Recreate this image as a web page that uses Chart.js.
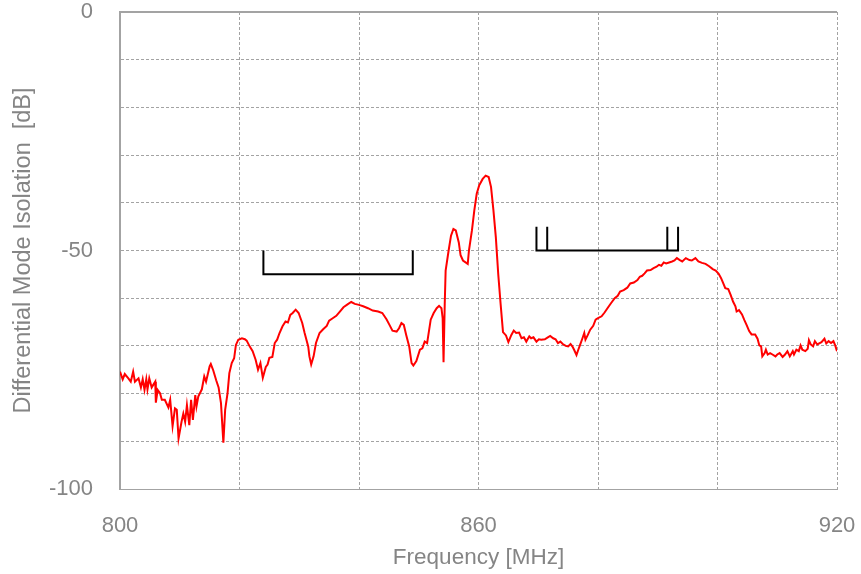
<!DOCTYPE html>
<html>
<head>
<meta charset="utf-8">
<script src="https://cdn.jsdelivr.net/npm/chart.js@4/dist/chart.umd.min.js"></script>
<style>
  html, body { margin: 0; padding: 0; background: #fff; }
  #wrap { width: 861px; height: 574px; position: relative; }
</style>
</head>
<body>
<div id="wrap"><canvas id="c" width="861" height="574"></canvas></div>
<script>
// ---- data ----
const freqMHz = [
  800.0, 800.45, 800.8, 801.4, 801.8, 802.2, 802.5, 803.1, 803.5, 803.8,
  804.1, 804.4, 804.6, 804.9, 805.3, 805.9, 806.0, 806.3, 806.7, 807.0,
  807.5, 808.1, 808.4, 808.8, 809.2, 809.5, 809.8, 810.3, 810.6, 810.9,
  811.2, 811.6, 811.9, 812.2, 812.6, 812.8, 813.1, 813.7, 814.1, 814.4,
  815.0, 815.2, 815.6, 816.1, 816.5, 816.9, 817.3, 817.6, 818.0, 818.3,
  818.7, 819.1, 819.4, 819.8,
  820.4, 820.9, 821.2, 821.7, 822.2, 822.7, 823.1, 823.5, 823.9, 824.4,
  824.7, 825.0, 825.5, 825.9, 826.3, 826.7, 827.2, 827.7, 828.1, 828.5,
  828.9, 829.4, 829.9, 830.5, 830.9, 831.5, 831.7, 832.0, 832.4, 832.8,
  833.4, 834.0, 834.6, 835.0, 835.6, 836.2, 836.8, 837.4, 838.2, 838.7,
  839.3, 840.0, 840.7, 841.5, 842.3, 843.2, 843.9, 844.6, 845.1, 845.6,
  846.3, 846.7, 847.1, 847.5, 847.9, 848.4, 848.8, 849.1, 849.6, 850.2,
  850.6, 851.0, 851.4, 852.0, 852.5, 853.0, 853.4, 853.8, 854.0, 854.15,
  854.35, 854.5,
  855.0, 855.4, 855.8, 856.2, 856.7, 857.0, 857.4, 858.2, 858.4, 858.9,
  859.3, 859.7, 860.1, 860.7, 861.2, 861.7, 862.1, 862.5, 862.9, 863.3,
  863.7, 864.1, 864.6, 865.0, 865.5, 865.9, 866.3, 866.8, 867.2, 867.6,
  868.0, 868.5, 868.8, 869.2, 869.7, 870.1, 870.5, 871.1, 871.6, 872.0,
  872.5, 872.9, 873.3, 873.7, 874.1, 874.6, 875.0, 875.4, 875.7, 876.0,
  876.4, 876.7, 877.0, 877.4, 877.7, 877.9, 878.3, 878.7, 879.2, 879.6,
  880.0, 880.6, 881.1, 881.7, 882.2, 882.8, 883.3, 883.7, 884.3, 884.9,
  885.4, 886.0, 886.6, 887.0, 887.4, 887.8, 888.2, 888.8, 889.3, 889.8,
  890.2, 890.6, 891.0, 891.4, 891.9, 892.4, 892.8, 893.2, 893.7,
  894.1, 894.7, 895.3, 895.7, 896.3, 896.8, 897.4, 898.0, 898.6, 899.2,
  899.7, 900.2, 900.6, 900.9, 901.3, 901.8, 902.2, 902.6, 903.0, 903.2,
  903.6, 904.1, 904.5, 904.9, 905.3, 905.7, 906.3, 906.7, 907.0, 907.3,
  907.5, 907.9, 908.1, 908.4, 908.8, 909.2, 909.7, 910.0, 910.4, 910.9,
  911.3, 911.7, 912.1, 912.6, 912.8, 913.2, 913.6, 913.9, 914.2, 914.7,
  915.1, 915.3, 915.6, 916.0, 916.3, 916.7, 917.1, 917.4, 917.9, 918.2,
  918.6, 919.0, 919.4, 919.7, 920.0
];
const isolationDb = [
  -75.4, -77.0, -75.9, -76.8, -77.5, -75.4, -77.5, -76.8, -78.7, -77.0,
  -79.2, -77.0, -79.1, -76.8, -78.7, -77.5, -81.9, -79.2, -79.9, -81.3,
  -81.3, -82.9, -81.3, -86.8, -83.1, -83.4, -89.4, -85.9, -84.2, -85.9,
  -82.4, -86.6, -81.3, -85.5, -80.3, -82.7, -80.6, -79.1, -76.4, -77.5,
  -74.3, -73.8, -75.1, -77.2, -78.7, -82.0, -90.3, -83.4, -79.9, -75.7,
  -73.6, -72.6, -69.8, -68.7,
  -68.4, -68.6, -68.9, -70.1, -71.1, -72.9, -75.0, -73.6, -76.7, -74.4,
  -73.9, -72.5, -72.3, -69.4, -68.7, -67.3, -65.9, -64.9, -65.1, -63.5,
  -63.1, -62.4, -63.1, -65.2, -67.3, -70.1, -72.2, -73.9, -72.2, -69.4,
  -67.3, -66.5, -65.8, -64.7, -64.2, -63.7, -62.8, -61.9, -61.2, -60.8,
  -61.2, -61.4, -61.7, -62.1, -62.6, -62.8, -63.1, -64.4, -65.6, -66.8,
  -67.0, -66.3, -65.2, -65.6, -67.7, -70.1, -73.6, -74.1, -73.2, -70.8,
  -70.5, -69.1, -69.4, -64.5, -63.1, -62.1, -61.6, -62.1, -64.2, -73.4,
  -61.2, -54.2,
  -50.0, -46.9, -45.5, -45.8, -48.3, -51.0, -52.1, -52.8, -50.0, -45.8,
  -41.6, -38.1, -36.4, -35.0, -34.3, -34.6, -36.7, -41.6, -47.2, -54.9,
  -61.2, -67.1, -67.8, -69.2, -67.7, -66.8, -67.3, -67.2, -68.4, -68.2,
  -69.1, -68.0, -68.4, -68.2, -69.1, -68.6, -68.7, -68.6, -68.2, -67.9,
  -68.4, -68.6, -69.4, -69.1, -69.6, -70.0, -70.1, -69.6, -70.1, -70.8,
  -71.9, -70.8, -69.8, -68.4, -67.3, -68.7, -67.7, -66.6, -65.8, -64.5,
  -64.2, -63.8, -63.0, -61.9, -61.0, -60.0, -59.5, -58.6, -58.3, -57.8,
  -56.9, -56.7, -56.2, -55.5, -55.3, -54.8, -54.2, -54.1, -53.7, -53.4,
  -53.0, -53.2, -52.5, -52.7, -52.5, -52.3, -52.1, -51.6, -52.0,
  -52.3, -51.6, -52.0, -52.1, -51.6, -52.3, -52.6, -52.8, -53.3, -53.9,
  -54.2, -54.9, -55.8, -56.7, -57.9, -58.1, -59.3, -60.7, -61.7, -62.8,
  -62.5, -63.4, -64.6, -65.7, -66.9, -67.6, -67.6, -68.5, -69.9, -70.1,
  -72.2, -71.5, -70.8, -71.8, -71.5, -71.8, -72.2, -71.8, -71.5, -72.3,
  -71.8, -71.1, -72.2, -71.1, -71.8, -70.8, -71.1, -69.9, -70.8, -71.1,
  -70.6, -68.8, -69.7, -70.1, -69.0, -69.7, -69.4, -69.2, -68.5, -69.5,
  -69.0, -69.4, -69.0, -69.9, -71.1
];
// Bracket markers (MHz / dB); null separates strokes
const bracketAX = [824, 824, 849, 849];
const bracketAY = [-50, -55, -55, -50];
const bracketBX = [869.7, 869.7, 893.4, 893.4, null, 871.5, 871.5, null, 891.6, 891.6];
const bracketBY = [-45, -50, -50, -45, null, -45, -50, null, -45, -50];
// Axis tick labels shown
const xTickLabels = [800, 860, 920];
const yTickLabels = [0, -50, -100];
const xLabel = 'Frequency [MHz]';
const yLabel = 'Differential Mode Isolation  [dB]';

// ---- build ----
const mainPts = freqMHz.map((f, i) => ({x: f, y: isolationDb[i]}));
const bA = bracketAX.map((x, i) => ({x: x, y: bracketAY[i]}));
const bB = [];
bracketBX.forEach((x, i) => {
  if (x === null) bB.push({x: (bracketBX[i-1] + bracketBX[i+1]) / 2, y: null});
  else bB.push({x: x, y: bracketBY[i]});
});

const GRAY = '#a3a3a3';
const TXT = '#858585';
const FONT = "'Liberation Sans', Arial, sans-serif";

const topBorder = {
  id: 'topBorder',
  afterDraw(chart) {
    const {ctx, chartArea} = chart;
    ctx.save();
    ctx.strokeStyle = GRAY;
    ctx.lineWidth = 2;
    ctx.beginPath();
    ctx.moveTo(chartArea.left - 1, chartArea.top);
    ctx.lineTo(chartArea.right, chartArea.top);
    ctx.stroke();
    ctx.restore();
  }
};

new Chart(document.getElementById('c'), {
  type: 'line',
  data: {
    datasets: [
      { data: mainPts, borderColor: '#ff0000', borderWidth: 2, pointRadius: 0, tension: 0, fill: false, order: 2 },
      { data: bA, borderColor: '#000000', borderWidth: 2, pointRadius: 0, tension: 0, fill: false, spanGaps: false, order: 1 },
      { data: bB, borderColor: '#000000', borderWidth: 2, pointRadius: 0, tension: 0, fill: false, spanGaps: false, order: 1 }
    ]
  },
  options: {
    responsive: false,
    animation: false,
    devicePixelRatio: 1,
    layout: { padding: { left: 0, top: 12, right: 24, bottom: 0 } },
    plugins: { legend: { display: false }, tooltip: { enabled: false } },
    scales: {
      x: {
        type: 'linear', min: 800, max: 920,
        ticks: {
          stepSize: 20, color: TXT, padding: 24, maxRotation: 0,
          font: { family: FONT, size: 22 },
          callback: v => (xTickLabels.includes(v) ? String(v) : '')
        },
        grid: { color: GRAY, lineWidth: 1, drawTicks: false },
        border: { display: true, color: GRAY, width: 1, dash: [3, 2] },
        title: { display: true, text: xLabel, color: TXT, font: { family: FONT, size: 22.5 }, padding: { top: 0, bottom: 3 } },
        afterFit: s => { s.height = 85; s.paddingLeft = 0; s.paddingRight = 0; }
      },
      y: {
        type: 'linear', min: -100, max: 0,
        ticks: {
          stepSize: 10, color: TXT, padding: 27,
          font: { family: FONT, size: 22 },
          callback: v => (yTickLabels.includes(v) ? String(v) : '')
        },
        grid: { color: GRAY, lineWidth: 1, drawTicks: false },
        border: { display: true, color: GRAY, width: 2, dash: [3, 2] },
        title: { display: true, text: yLabel, color: TXT, font: { family: FONT, size: 23.5 }, padding: { top: 9, bottom: 0 } },
        afterFit: s => { s.width = 120; s.paddingTop = 0; s.paddingBottom = 0; }
      }
    }
  },
  plugins: [topBorder]
});
</script>
</body>
</html>
